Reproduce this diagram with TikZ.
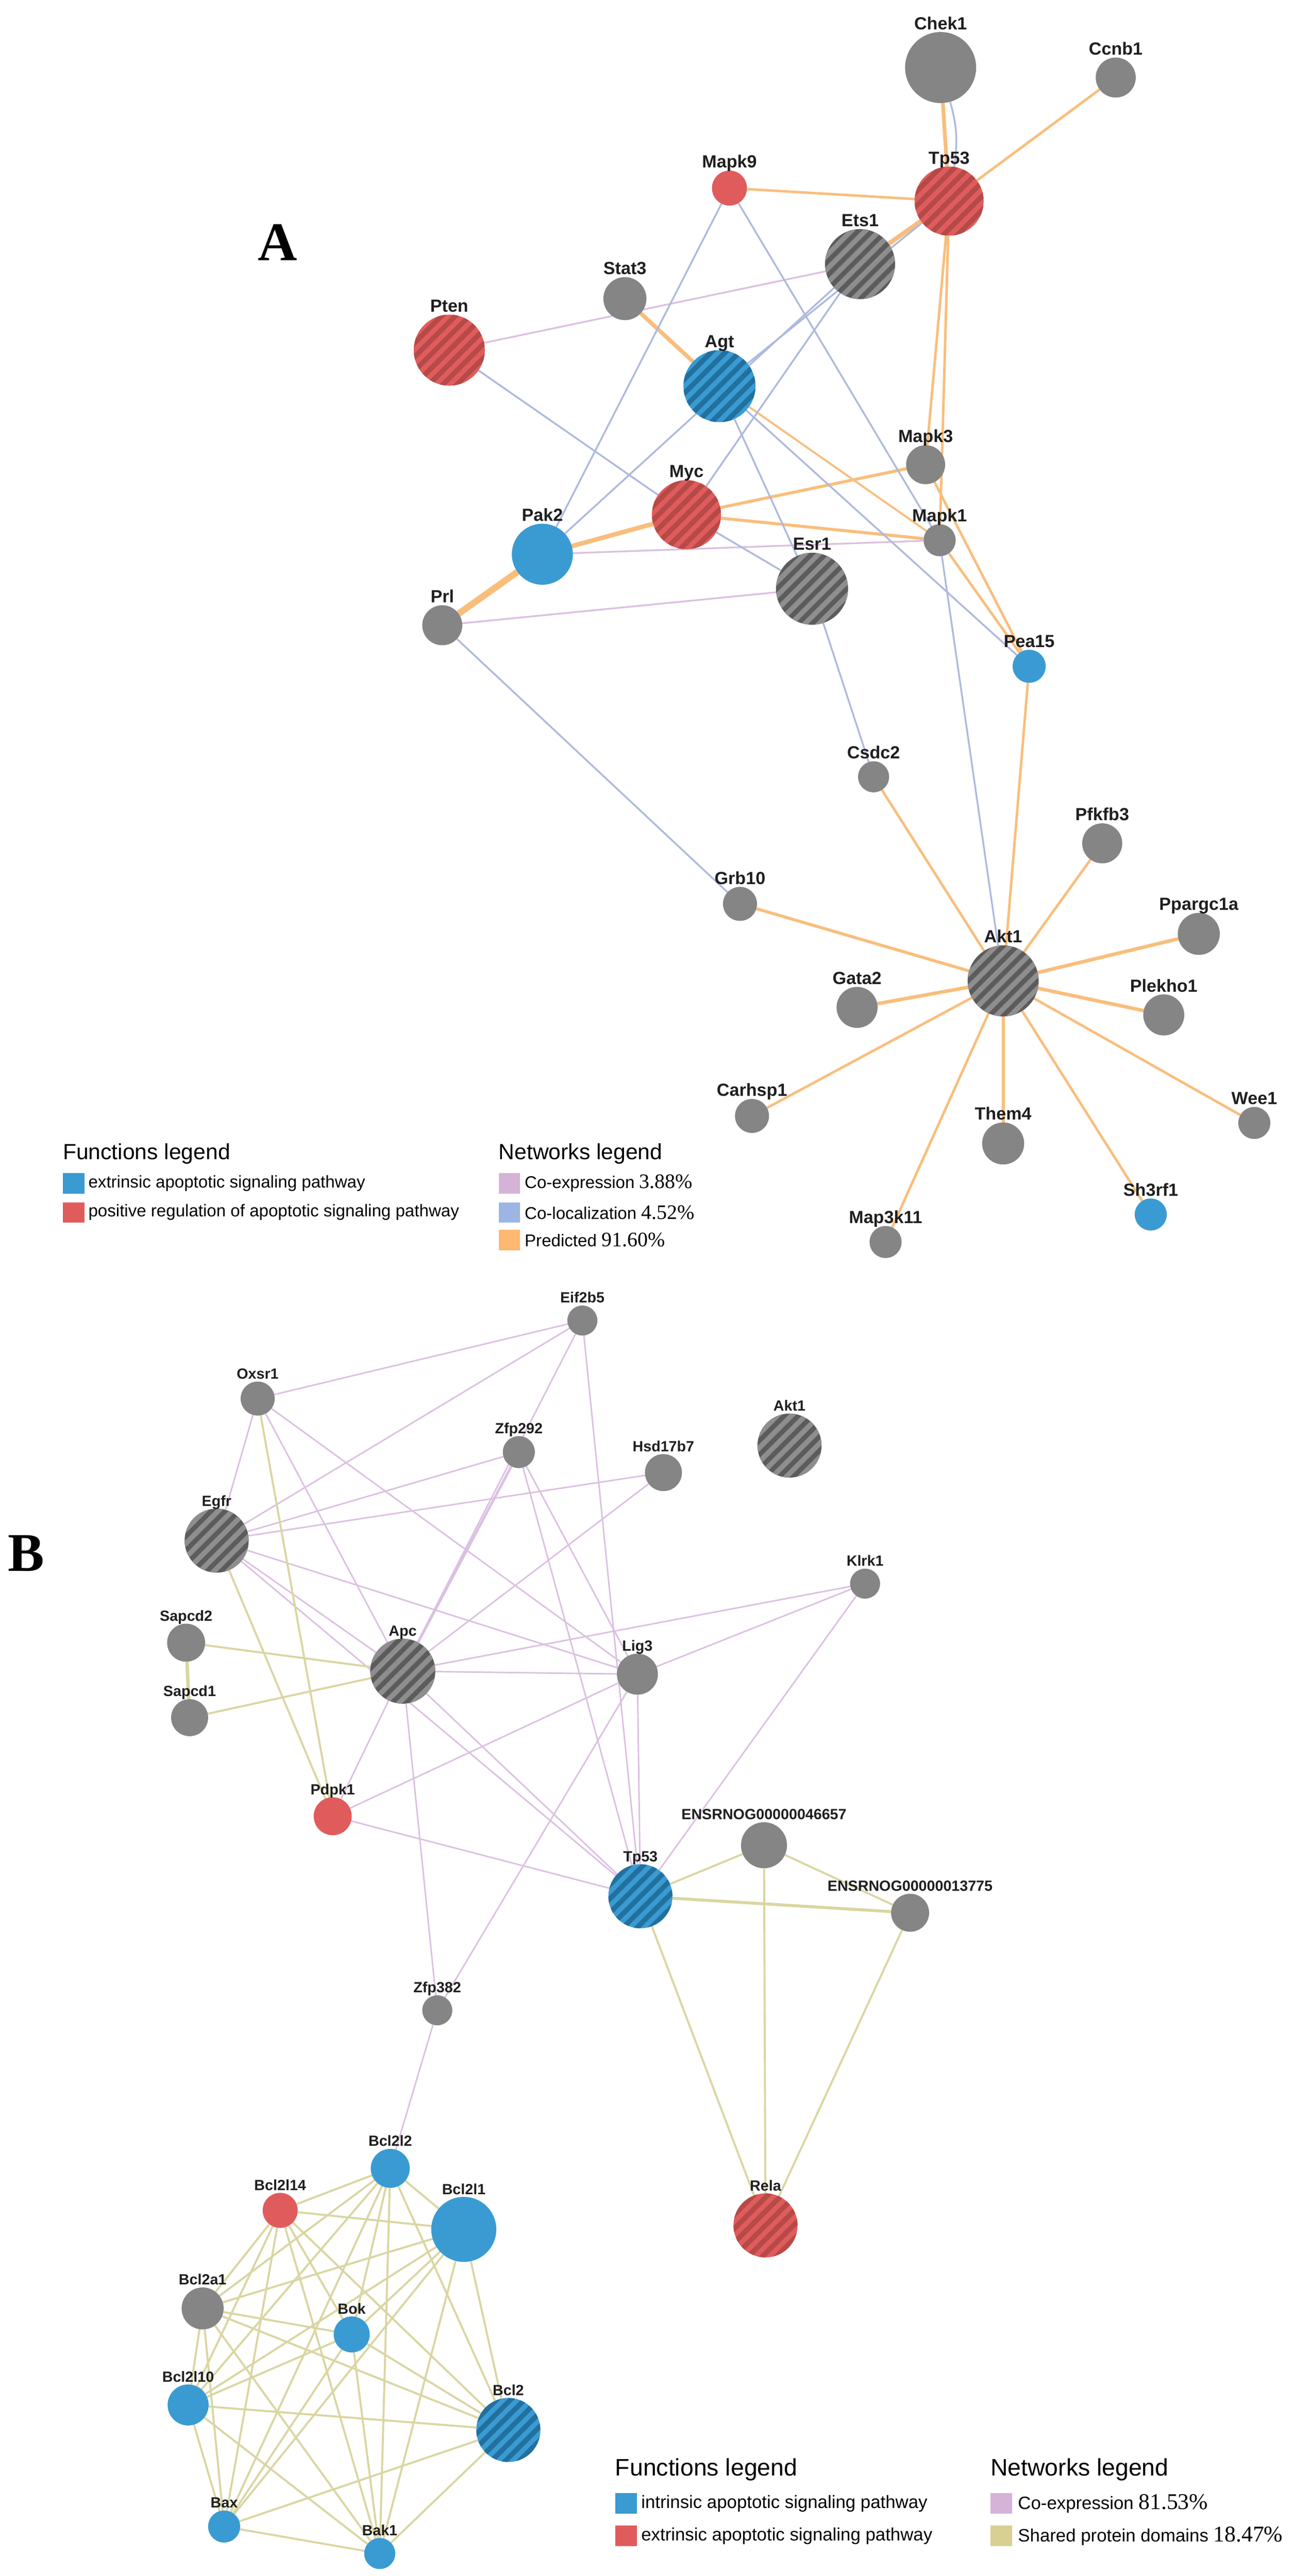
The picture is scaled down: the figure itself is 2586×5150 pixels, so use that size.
\documentclass[tikz,border=0pt]{standalone}
\usepackage{fontspec}
\setmainfont{Liberation Serif}
\setsansfont{Liberation Sans}
\usetikzlibrary{backgrounds}
\definecolor{ggrey}{HTML}{858585}
\definecolor{gdark}{HTML}{5C5C5C}
\definecolor{glight}{HTML}{8E8E8E}
\definecolor{gblue}{HTML}{3A9BD2}
\definecolor{gbluedark}{HTML}{22709F}
\definecolor{gred}{HTML}{E05C5C}
\definecolor{greddark}{HTML}{B54A48}
\definecolor{ecoexp}{HTML}{DCC0E2}
\definecolor{ecoloc}{HTML}{AEB9DE}
\definecolor{epred}{HTML}{F9BE7C}
\definecolor{espd}{HTML}{DAD6A2}
\definecolor{lcoexp}{HTML}{D5B3D8}
\definecolor{lcoloc}{HTML}{9DB5E2}
\definecolor{lpred}{HTML}{FDB872}
\definecolor{lspd}{HTML}{D8CF93}
\tikzset{
 gene/.style={circle, inner sep=0pt, outer sep=0pt, draw=none},
 gG/.style={gene, fill=ggrey},
 gB/.style={gene, fill=gblue},
 gR/.style={gene, fill=gred},
 striped/.style 2 args={gene, fill=#1, path picture={\foreach \k in {-9,...,9}{\draw[draw=#2, line width=1mm] ([xshift=\k*2.8mm]path picture bounding box.center) ++(-15mm,-15mm) -- ++(30mm,30mm);}}},
 gGS/.style={striped={gdark}{glight}},
 gBS/.style={striped={gblue}{gbluedark}},
 gRS/.style={striped={gred}{greddark}},
 labA/.style={font=\sffamily\bfseries\fontsize{10}{12}\selectfont, inner sep=0pt, text=black!88},
 labB/.style={font=\sffamily\bfseries\fontsize{8.4}{10}\selectfont, inner sep=0pt, text=black!88},
 coexp/.style={draw=ecoexp, line width=0.35mm},
 coloc/.style={draw=ecoloc, line width=0.35mm},
 pred/.style={draw=epred, line width=0.5mm},
 spd/.style={draw=espd, line width=0.4mm},
 swatch/.style={minimum width=4.3mm, minimum height=4.1mm, inner sep=0pt, anchor=west},
 legtitA/.style={font=\sffamily\fontsize{12.5}{14}\selectfont, inner sep=0pt, anchor=west},
 legtxtA/.style={font=\sffamily\fontsize{9.7}{12}\selectfont, inner sep=0pt, anchor=west},
 legtitB/.style={font=\sffamily\fontsize{13.6}{15}\selectfont, inner sep=0pt, anchor=west},
 legtxtB/.style={font=\sffamily\fontsize{10.2}{12}\selectfont, inner sep=0pt, anchor=west},
 panel/.style={font=\rmfamily\bfseries\fontsize{31}{34}\selectfont, inner sep=0pt},
}
\newcommand{\mkgene}[7]{\node[#5, minimum size=#4*0.2mm] (#1) at (#2,#3) {};
 \node[#7, anchor=base] (#1-l) at ([yshift=1.5pt]#1.north) {#6};}
\newcommand{\pcA}[1]{{\rmfamily\fontsize{11.7}{12}\selectfont #1}}
\newcommand{\pcB}[1]{{\rmfamily\fontsize{12.8}{13}\selectfont #1}}
\begin{document}
\begin{tikzpicture}[x=0.1mm, y=-0.1mm]
\useasboundingbox (0,0) rectangle (2586,5150);
\begin{scope}[on background layer]
\fill[white] (0,0) rectangle (2586,5150);
\end{scope}
% ---------- panel A nodes
\mkgene{chek1}{1880}{135}{71}{gG}{Chek1}{labA}
\mkgene{ccnb1}{2230}{155}{40}{gG}{Ccnb1}{labA}
\mkgene{mapk9}{1458}{376}{35}{gR}{Mapk9}{labA}
\mkgene{tp53a}{1897}{402}{69}{gRS}{Tp53}{labA}
\mkgene{ets1}{1719}{528}{70}{gGS}{Ets1}{labA}
\mkgene{stat3}{1249}{597}{43}{gG}{Stat3}{labA}
\mkgene{pten}{898}{700}{71}{gRS}{Pten}{labA}
\mkgene{agt}{1438}{772}{72}{gBS}{Agt}{labA}
\mkgene{mapk3}{1850}{929}{39}{gG}{Mapk3}{labA}
\mkgene{myc}{1372}{1029}{69}{gRS}{Myc}{labA}
\mkgene{mapk1}{1878}{1080}{32}{gG}{Mapk1}{labA}
\mkgene{pak2}{1084}{1108}{61}{gB}{Pak2}{labA}
\mkgene{esr1}{1623}{1177}{72}{gGS}{Esr1}{labA}
\mkgene{prl}{884}{1250}{40}{gG}{Prl}{labA}
\mkgene{pea15}{2057}{1332}{33}{gB}{Pea15}{labA}
\mkgene{csdc2}{1746}{1553}{31}{gG}{Csdc2}{labA}
\mkgene{pfkfb3}{2203}{1686}{40}{gG}{Pfkfb3}{labA}
\mkgene{grb10}{1479}{1807}{34}{gG}{Grb10}{labA}
\mkgene{ppargc1a}{2396}{1867}{42}{gG}{Ppargc1a}{labA}
\mkgene{akt1a}{2005}{1961}{71}{gGS}{Akt1}{labA}
\mkgene{gata2}{1713}{2014}{41}{gG}{Gata2}{labA}
\mkgene{plekho1}{2326}{2029}{41}{gG}{Plekho1}{labA}
\mkgene{carhsp1}{1503}{2231}{34}{gG}{Carhsp1}{labA}
\mkgene{wee1}{2507}{2245}{32}{gG}{Wee1}{labA}
\mkgene{them4}{2005}{2286}{42}{gG}{Them4}{labA}
\mkgene{sh3rf1}{2300}{2428}{32}{gB}{Sh3rf1}{labA}
\mkgene{map3k11}{1770}{2483}{32}{gG}{Map3k11}{labA}
% ---------- panel B nodes
\mkgene{eif2b5}{1164}{2640}{30}{gG}{Eif2b5}{labB}
\mkgene{oxsr1}{515}{2796}{34}{gG}{Oxsr1}{labB}
\mkgene{zfp292}{1037}{2903}{32}{gG}{Zfp292}{labB}
\mkgene{hsd17b7}{1326}{2944}{37}{gG}{Hsd17b7}{labB}
\mkgene{akt1b}{1578}{2890}{64}{gGS}{Akt1}{labB}
\mkgene{egfr}{433}{3080}{64}{gGS}{Egfr}{labB}
\mkgene{klrk1}{1729}{3166}{30}{gG}{Klrk1}{labB}
\mkgene{sapcd2}{372}{3284}{38}{gG}{Sapcd2}{labB}
\mkgene{apc}{805}{3341}{65}{gGS}{Apc}{labB}
\mkgene{lig3}{1274}{3347}{41}{gG}{Lig3}{labB}
\mkgene{sapcd1}{379}{3434}{37}{gG}{Sapcd1}{labB}
\mkgene{pdpk1}{665}{3631}{38}{gR}{Pdpk1}{labB}
\mkgene{ens46657}{1527}{3689}{46}{gG}{ENSRNOG00000046657}{labB}
\mkgene{tp53b}{1280}{3791}{64}{gBS}{Tp53}{labB}
\mkgene{ens13775}{1819}{3824}{38}{gG}{ENSRNOG00000013775}{labB}
\mkgene{zfp382}{874}{4019}{30}{gG}{Zfp382}{labB}
\mkgene{bcl2l2}{780}{4335}{39}{gB}{Bcl2l2}{labB}
\mkgene{bcl2l14}{560}{4419}{35}{gR}{Bcl2l14}{labB}
\mkgene{rela}{1530}{4449}{64}{gRS}{Rela}{labB}
\mkgene{bcl2l1}{927}{4457}{65}{gB}{Bcl2l1}{labB}
\mkgene{bcl2a1}{405}{4615}{42}{gG}{Bcl2a1}{labB}
\mkgene{bok}{703}{4667}{36}{gB}{Bok}{labB}
\mkgene{bcl2l10}{376}{4808}{41}{gB}{Bcl2l10}{labB}
\mkgene{bcl2}{1016}{4858}{64}{gBS}{Bcl2}{labB}
\mkgene{bax}{448}{5051}{32}{gB}{Bax}{labB}
\mkgene{bak1}{759}{5105}{31}{gB}{Bak1}{labB}
% ---------- panel letters
\node[panel] (pA) at (555,485) {A};
\node[panel] (pB) at (52,3105) {B};
% ---------- legend A
\node[legtitA] (fA) at (125,2307) {Functions legend};
\node[swatch, fill=gblue] (fA1s) at (125,2366) {};
\node[legtxtA] (fA1) at (176,2366) {extrinsic apoptotic signaling pathway};
\node[swatch, fill=gred] (fA2s) at (125,2424) {};
\node[legtxtA] (fA2) at (176,2424) {positive regulation of apoptotic signaling pathway};
\node[legtitA] (nA) at (996,2307) {Networks legend};
\node[swatch, fill=lcoexp] (nA1s) at (996,2366) {};
\node[legtxtA] (nA1) at (1048,2366) {Co-expression \pcA{3.88\%}};
\node[swatch, fill=lcoloc] (nA2s) at (996,2424) {};
\node[legtxtA] (nA2) at (1048,2424) {Co-localization \pcA{4.52\%}};
\node[swatch, fill=lpred] (nA3s) at (996,2479) {};
\node[legtxtA] (nA3) at (1048,2479) {Predicted \pcA{91.60\%}};
% ---------- legend B
\node[legtitB] (fB) at (1229,4937) {Functions legend};
\node[swatch, fill=gblue] (fB1s) at (1229,5005) {};
\node[legtxtB] (fB1) at (1281,5005) {intrinsic apoptotic signaling pathway};
\node[swatch, fill=gred] (fB2s) at (1229,5070) {};
\node[legtxtB] (fB2) at (1281,5070) {extrinsic apoptotic signaling pathway};
\node[legtitB] (nB) at (1979,4937) {Networks legend};
\node[swatch, fill=lcoexp] (nB1s) at (1979,5005) {};
\node[legtxtB] (nB1) at (2034,5005) {Co-expression \pcB{81.53\%}};
\node[swatch, fill=lspd] (nB2s) at (1979,5070) {};
\node[legtxtB] (nB2) at (2034,5070) {Shared protein domains \pcB{18.47\%}};
% ---------- edges
\begin{scope}[on background layer]
% panel A predicted
\draw[pred, line width=0.75mm] (chek1) -- (tp53a);
\draw[coloc] (chek1) to[bend left=12] (tp53a);
\draw[pred] (ccnb1) -- (tp53a);
\draw[pred] (mapk9) -- (tp53a);
\draw[pred, line width=0.9mm] (ets1) -- (tp53a);
\draw[pred] (tp53a) -- (mapk3);
\draw[pred] (tp53a) -- (mapk1);
\draw[pred] (mapk3) -- (pea15);
\draw[pred] (mapk1) -- (pea15);
\draw[pred, line width=0.8mm] (stat3) -- (agt);
\draw[pred, line width=0.4mm] (agt) -- (mapk1);
\draw[pred, line width=0.6mm] (myc) -- (mapk3);
\draw[pred, line width=0.6mm] (myc) -- (mapk1);
\draw[pred, line width=0.9mm] (pak2) -- (myc);
\draw[pred, line width=1.3mm] (prl) -- (pak2);
% panel A co-expression / co-localization
\draw[coexp] (pten) -- (ets1);
\draw[coexp] (prl) -- (esr1);
\draw[coexp] (pak2) -- (mapk1);
\draw[coloc] (mapk9) -- (pak2);
\draw[coloc] (mapk9) -- (mapk1);
\draw[coloc] (mapk1) -- (akt1a);
\draw[coloc] (agt) -- (esr1);
\draw[coloc] (agt) -- (pea15);
\draw[coloc] (tp53a) -- (agt);
\draw[coloc] (ets1) -- (myc);
\draw[coloc] (pak2) -- (ets1);
\draw[coloc] (pten) -- (myc);
\draw[coloc] (myc) -- (esr1);
\draw[coloc] (esr1) -- (csdc2);
\draw[coloc] (prl) -- (grb10);
% Akt1 star
\draw[pred] (csdc2) -- (akt1a);
\draw[pred] (pea15) -- (akt1a);
\draw[pred] (pfkfb3) -- (akt1a);
\draw[pred, line width=0.7mm] (ppargc1a) -- (akt1a);
\draw[pred, line width=0.7mm] (plekho1) -- (akt1a);
\draw[pred] (wee1) -- (akt1a);
\draw[pred] (sh3rf1) -- (akt1a);
\draw[pred, line width=0.6mm] (them4) -- (akt1a);
\draw[pred] (map3k11) -- (akt1a);
\draw[pred] (carhsp1) -- (akt1a);
\draw[pred, line width=0.7mm] (gata2) -- (akt1a);
\draw[pred, line width=0.6mm] (grb10) -- (akt1a);
% panel B co-expression
\foreach \a/\b in {oxsr1/eif2b5, egfr/eif2b5, eif2b5/apc, eif2b5/tp53b, oxsr1/egfr, oxsr1/pdpk1, oxsr1/apc, oxsr1/lig3, egfr/zfp292, egfr/hsd17b7, egfr/lig3, egfr/apc, egfr/pdpk1, egfr/tp53b, apc/hsd17b7, apc/lig3, apc/klrk1, apc/pdpk1, apc/tp53b, apc/zfp382, zfp292/lig3, zfp292/tp53b, pdpk1/lig3, pdpk1/tp53b, lig3/klrk1, lig3/tp53b, lig3/zfp382, klrk1/tp53b, zfp382/bcl2l2}
  \draw[coexp, line width=0.3mm] (\a) -- (\b);
\draw[coexp, line width=0.5mm] (apc) -- (zfp292);
% panel B shared protein domains
\foreach \a/\b in {oxsr1/pdpk1, egfr/pdpk1, sapcd2/apc, sapcd1/apc, tp53b/ens46657, ens46657/ens13775, tp53b/rela, ens46657/rela, ens13775/rela}
  \draw[spd] (\a) -- (\b);
\draw[spd, line width=0.7mm] (sapcd2) -- (sapcd1);
\draw[spd, line width=0.6mm] (tp53b) -- (ens13775);
\foreach \a/\b in {bcl2l2/bcl2l14, bcl2l2/bcl2l1, bcl2l2/bcl2a1, bcl2l2/bok, bcl2l2/bcl2l10, bcl2l2/bcl2, bcl2l2/bax, bcl2l2/bak1,
  bcl2l14/bcl2l1, bcl2l14/bcl2a1, bcl2l14/bok, bcl2l14/bcl2l10, bcl2l14/bcl2, bcl2l14/bax, bcl2l14/bak1,
  bcl2l1/bcl2a1, bcl2l1/bok, bcl2l1/bcl2l10, bcl2l1/bcl2, bcl2l1/bax, bcl2l1/bak1,
  bcl2a1/bok, bcl2a1/bcl2l10, bcl2a1/bcl2, bcl2a1/bax, bcl2a1/bak1,
  bok/bcl2l10, bok/bcl2, bok/bax, bok/bak1,
  bcl2l10/bcl2, bcl2l10/bax, bcl2l10/bak1,
  bcl2/bax, bcl2/bak1, bax/bak1}
  \draw[spd] (\a) -- (\b);
\end{scope}
\end{tikzpicture}
\end{document}
